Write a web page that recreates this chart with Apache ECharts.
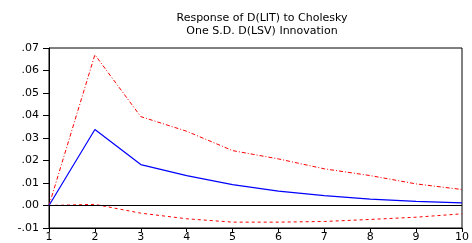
<!DOCTYPE html>
<html>
<head>
<meta charset="utf-8">
<script src="https://cdn.jsdelivr.net/npm/echarts@6/dist/echarts.min.js"></script>
<style>
  html, body { margin: 0; padding: 0; background: #fff; }
  #chart { width: 472px; height: 243px; }
</style>
</head>
<body>
<div id="chart"></div>
<script>
// periods after the shock
var periods = [1, 2, 3, 4, 5, 6, 7, 8, 9, 10];
// response and +/- 2 S.E. bands
var response = [0, 0.0338, 0.0182, 0.0133, 0.0093, 0.0064, 0.0044, 0.0028, 0.0018, 0.0012];
var upper = [0, 0.0670, 0.0395, 0.0330, 0.0244, 0.0207, 0.0163, 0.0133, 0.0096, 0.0071];
var lower = [0, 0.0005, -0.0034, -0.0059, -0.0074, -0.0074, -0.0071, -0.0062, -0.0052, -0.0037];

function pairs(vals) {
    var out = [];
    for (var i = 0; i < periods.length; i++) {
        out.push([periods[i], vals[i]]);
    }
    return out;
}

var font = 'DejaVu Sans';
var chart = echarts.init(document.getElementById('chart'));

var option = {
    backgroundColor: '#fff',
    animation: false,
    title: {
        text: 'Response of D(LIT) to Cholesky\nOne S.D. D(LSV) Innovation',
        left: 257,
        textAlign: 'center',
        top: 7,
        textStyle: {
            fontFamily: font,
            fontSize: 11,
            fontWeight: 'normal',
            color: '#000',
            lineHeight: 13
        }
    },
    grid: {
        left: 49,
        right: 10,
        top: 48,
        bottom: 15,
        show: true,
        borderColor: '#000',
        borderWidth: 1
    },
    xAxis: {
        type: 'value',
        min: 1,
        max: 10,
        interval: 1,
        axisLine: { onZero: false, lineStyle: { color: '#000' } },
        axisTick: { show: true, length: 4, lineStyle: { color: '#000' } },
        axisLabel: { color: '#000', fontFamily: font, fontSize: 11, margin: 4 },
        splitLine: { show: false }
    },
    yAxis: {
        type: 'value',
        min: -0.01,
        max: 0.07,
        interval: 0.01,
        axisLine: { show: true, onZero: false, lineStyle: { color: '#000' } },
        axisTick: { show: true, length: 6, lineStyle: { color: '#000' } },
        axisLabel: {
            color: '#000',
            fontFamily: font,
            fontSize: 11,
            margin: 10,
            formatter: function (v) {
                return v.toFixed(2).replace('0.', '.');
            }
        },
        splitLine: { show: false }
    },
    series: [
        {
            name: 'upper',
            type: 'line',
            data: pairs(upper),
            showSymbol: false,
            lineStyle: { color: '#ff0000', width: 1, type: [4, 2, 1, 2] }
        },
        {
            name: 'lower',
            type: 'line',
            data: pairs(lower),
            showSymbol: false,
            lineStyle: { color: '#ff0000', width: 1, type: [3, 3] }
        },
        {
            name: 'response',
            type: 'line',
            data: pairs(response),
            showSymbol: false,
            lineStyle: { color: '#0000ff', width: 1.2 },
            markLine: {
                silent: true,
                symbol: 'none',
                label: { show: false },
                lineStyle: { color: '#000', width: 1, type: 'solid' },
                data: [{ yAxis: 0 }]
            }
        }
    ]
};

chart.setOption(option);
</script>
</body>
</html>
